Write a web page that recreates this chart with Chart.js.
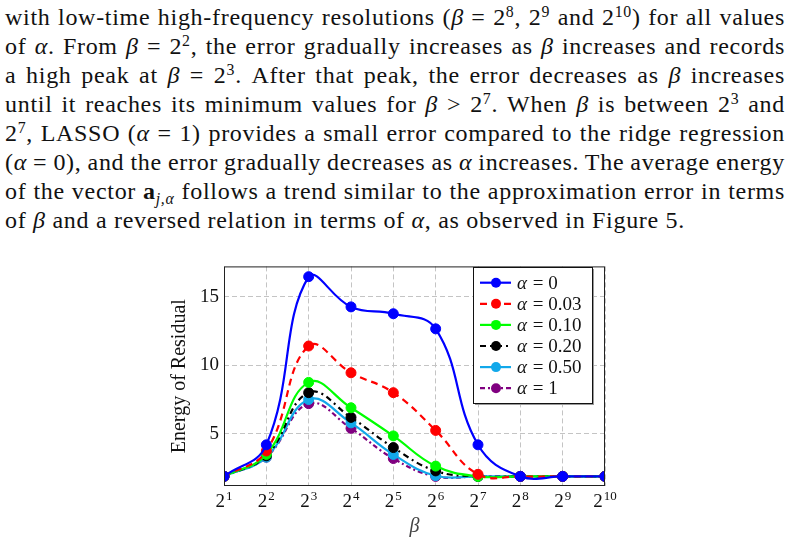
<!DOCTYPE html>
<html>
<head>
<meta charset="utf-8">
<script src="https://cdn.jsdelivr.net/npm/chart.js@4.4.1/dist/chart.umd.min.js"></script>
<style>
  html, body { margin: 0; padding: 0; background: #fff; }
  body { width: 789px; height: 542px; position: relative; overflow: hidden; }
  #para { position: absolute; left: 5px; top: 3px; width: 780px;
          font-family: "Liberation Serif", serif; font-size: 24px; color: #111;
          letter-spacing: 0.7px; }
  #para div { height: 29px; line-height: 29px; white-space: nowrap; word-spacing: -3px;
              text-align: justify; text-align-last: justify; }
  #para div.last { text-align-last: left; word-spacing: 0; }
  #para i { font-style: italic; }
  .sp { font-size: 0.66em; position: relative; top: -0.5em; line-height: 0; }
  .sb { font-size: 0.66em; position: relative; top: 0.3em; line-height: 0; font-style: italic; }
  #wrap { position: absolute; left: 150px; top: 250px; width: 470px; height: 292px; }
</style>
</head>
<body>
<div id="para">
  <div>with low-time high-frequency resolutions (<i>β</i> = 2<span class="sp">8</span>, 2<span class="sp">9</span> and 2<span class="sp">10</span>) for all values</div>
  <div>of <i>α</i>. From <i>β</i> = 2<span class="sp">2</span>, the error gradually increases as <i>β</i> increases and records</div>
  <div>a high peak at <i>β</i> = 2<span class="sp">3</span>. After that peak, the error decreases as <i>β</i> increases</div>
  <div>until it reaches its minimum values for <i>β</i> &gt; 2<span class="sp">7</span>. When <i>β</i> is between 2<span class="sp">3</span> and</div>
  <div>2<span class="sp">7</span>, LASSO (<i>α</i> = 1) provides a small error compared to the ridge regression</div>
  <div>(<i>α</i> = 0), and the error gradually decreases as <i>α</i> increases. The average energy</div>
  <div>of the vector <b>a</b><span class="sb">j,α</span> follows a trend similar to the approximation error in terms</div>
  <div class="last">of <i>β</i> and a reversed relation in terms of <i>α</i>, as observed in Figure 5.</div>
</div>
<div id="wrap"><canvas id="chart" width="470" height="292"></canvas></div>
<script>
// beta = 2^k, k = 1..10
const betaExp = [1, 2, 3, 4, 5, 6, 7, 8, 9, 10];
const yTicks = [5, 10, 15];

const alphaLabels = ['0', '0.03', '0.10', '0.20', '0.50', '1'];
const alpha0   = [1.9, 4.2, 16.45, 14.25, 13.75, 12.65, 4.2, 1.9, 1.9, 1.9];
const alpha003 = [1.9, 3.75, 11.4, 9.45, 8.0, 5.25, 2.05, 1.9, 1.9, 1.9];
const alpha010 = [1.9, 3.5, 8.75, 6.9, 4.85, 2.65, 1.9, 1.9, 1.9, 1.9];
const alpha020 = [1.9, 3.4, 8.0, 6.2, 4.0, 2.3, 1.9, 1.9, 1.9, 1.9];
const alpha050 = [1.9, 3.3, 7.5, 5.8, 3.5, 1.95, 1.9, 1.9, 1.9, 1.9];
const alpha1   = [1.9, 3.3, 7.2, 5.4, 3.2, 1.9, 1.9, 1.9, 1.9, 1.9];

const series = [alpha0, alpha003, alpha010, alpha020, alpha050, alpha1];
const colors = ['#0000ff', '#ff0000', '#00ff00', '#000000', '#12a8ea', '#800080'];
const dashes = [[], [7, 5], [], [6, 4, 2, 4], [], [5, 3, 2, 3]];

const serif = '"Liberation Serif", serif';

const datasets = series.map((s, i) => ({
  label: 'α = ' + alphaLabels[i],
  data: betaExp.map((k, j) => ({ x: k, y: s[j] })),
  borderColor: colors[i],
  backgroundColor: colors[i],
  pointBackgroundColor: colors[i],
  pointBorderColor: colors[i],
  borderWidth: 2.2,
  borderDash: dashes[i],
  pointRadius: 5,
  pointBorderWidth: 1,
  tension: 0.42,
  fill: false
}));

// frame, x tick labels (2^k) and the legend box inside the plot
const decor = {
  id: 'decor',
  afterDraw(chart) {
    const c = chart.ctx;
    const a = chart.chartArea;
    const xs = chart.scales.x;
    c.save();
    c.strokeStyle = '#222';
    c.lineWidth = 1;
    c.strokeRect(a.left + 0.5, a.top + 0.5, a.right - a.left - 1, a.bottom - a.top - 1);

    c.fillStyle = '#111';
    c.textBaseline = 'alphabetic';
    betaExp.forEach(k => {
      const px = xs.getPixelForValue(k);
      c.font = '19px ' + serif;
      const w1 = c.measureText('2').width;
      c.font = '13px ' + serif;
      const w2 = c.measureText(String(k)).width;
      const x0 = px - (w1 + w2 + 1) / 2;
      c.font = '19px ' + serif;
      c.fillText('2', x0, a.bottom + 21);
      c.font = '13px ' + serif;
      c.fillText(String(k), x0 + w1 + 1, a.bottom + 14);
    });

    // legend
    const lx = 323, ly = 17, lw = 119, lh = 136;
    c.fillStyle = '#999';
    c.fillRect(lx + 2, ly + 2, lw, lh);
    c.fillStyle = '#fff';
    c.fillRect(lx, ly, lw, lh);
    c.strokeStyle = '#111';
    c.strokeRect(lx + 0.5, ly + 0.5, lw, lh);
    chart.data.datasets.forEach((ds, i) => {
      const cy = ly + 15.7 + i * 21.1;
      c.strokeStyle = ds.borderColor;
      c.lineWidth = 2.2;
      c.setLineDash(ds.borderDash);
      c.beginPath();
      c.moveTo(lx + 7, cy);
      c.lineTo(lx + 38, cy);
      c.stroke();
      c.setLineDash([]);
      c.fillStyle = ds.borderColor;
      c.beginPath();
      c.arc(lx + 23, cy, 5, 0, Math.PI * 2);
      c.fill();
      c.fillStyle = '#111';
      c.textBaseline = 'middle';
      c.font = 'italic 19px ' + serif;
      c.fillText('α', lx + 44, cy + 1);
      const wa = c.measureText('α').width;
      c.font = '19px ' + serif;
      c.fillText(' = ' + alphaLabels[i], lx + 45 + wa, cy + 1);
    });
    c.restore();
  }
};

new Chart(document.getElementById('chart'), {
  type: 'line',
  data: { datasets },
  options: {
    responsive: false,
    animation: false,
    layout: { padding: { top: 10, right: 15, left: 0, bottom: 0 } },
    plugins: { legend: { display: false }, tooltip: { enabled: false } },
    scales: {
      x: {
        type: 'linear',
        min: 1,
        max: 10,
        afterBuildTicks: s => { s.ticks = betaExp.map(v => ({ value: v })); },
        afterFit: s => { s.height = 56; },
        ticks: { display: false },
        grid: { color: '#c4c4c4', drawTicks: false },
        border: { display: false, dash: [5, 3] },
        title: { display: true, text: 'β', color: '#444',
                 font: { family: serif, size: 20, style: 'italic' },
                 padding: { top: 0, bottom: 3 } }
      },
      y: {
        min: 1.2,
        max: 17.2,
        afterBuildTicks: s => { s.ticks = yTicks.map(v => ({ value: v })); },
        afterFit: s => { s.width = 74; },
        ticks: { color: '#111', padding: 5, font: { family: serif, size: 19 } },
        grid: { color: '#c4c4c4', drawTicks: false },
        border: { display: false, dash: [5, 3] },
        title: { display: true, text: 'Energy of Residual', color: '#111',
                 font: { family: serif, size: 20 },
                 padding: { top: 18, bottom: 0 } }
      }
    }
  },
  plugins: [decor]
});
</script>
</body>
</html>
